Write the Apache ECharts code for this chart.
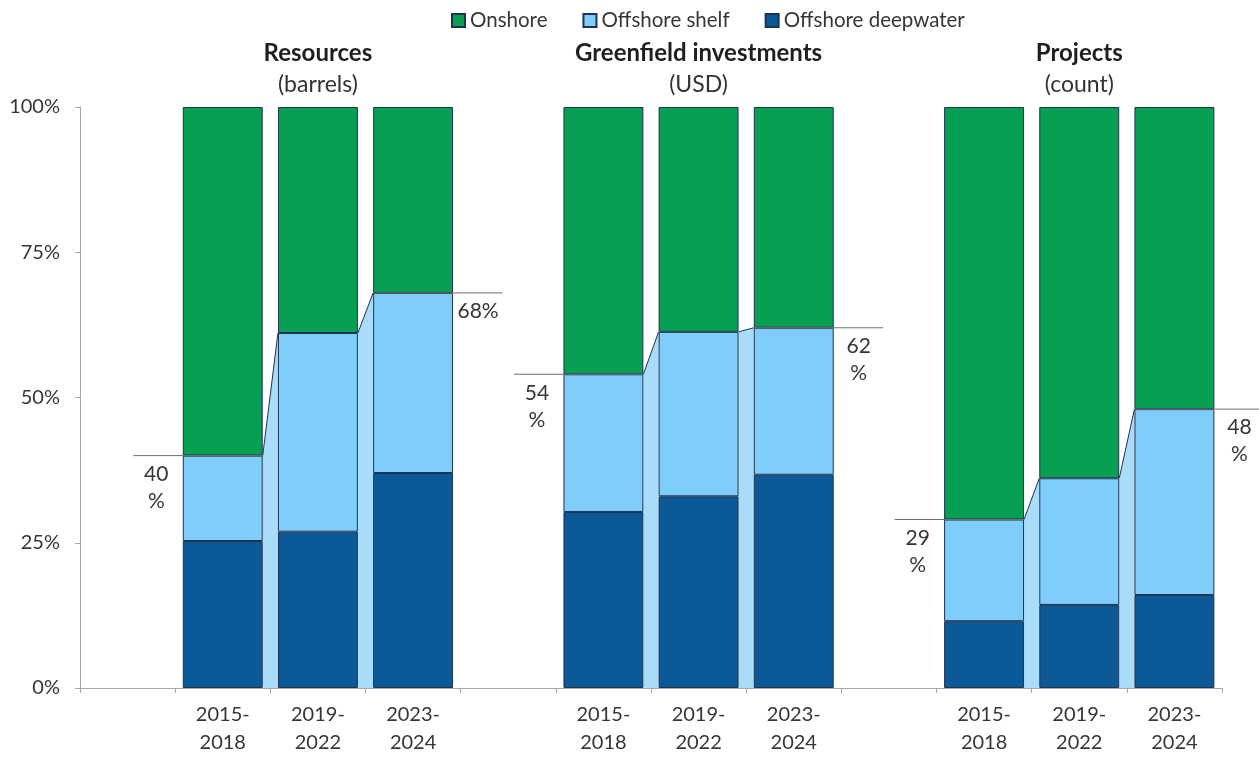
<!DOCTYPE html>
<html>
<head>
<meta charset="utf-8">
<script src="https://cdn.jsdelivr.net/npm/echarts@6/dist/echarts.min.js"></script>
<style>
  html, body { margin: 0; padding: 0; background: #ffffff; }
  #chart { width: 1259px; height: 758px; }
</style>
</head>
<body>
<div id="chart"></div>
<script>
// Panels, their units and the periods shown in each panel
const groups = ['Resources', 'Greenfield investments', 'Projects'];
const units = ['(barrels)', '(USD)', '(count)'];
const periods = ['2015-2018', '2019-2022', '2023-2024'];

// Shares in percent, one row per panel, one value per period
const deepwater = [
  [25.3, 26.9, 37.0],
  [30.3, 33.0, 36.7],
  [11.5, 14.3, 16.0]
];
const shelf = [
  [14.7, 34.2, 31.0],
  [23.7, 28.3, 25.3],
  [17.5, 21.8, 32.0]
];
const onshore = [
  [60.0, 38.9, 32.0],
  [46.0, 38.7, 38.0],
  [71.0, 63.9, 52.0]
];

// Whether the offshore-share callout wraps the % sign onto a second line
// (first period, last period) per panel
const calloutWrap = [
  [true, false],
  [true, true],
  [true, true]
];

const yTicks = [0, 25, 50, 75, 100];

const COLORS = {
  onshore: '#07a052',
  shelf: '#7fcdfb',
  deep: '#0b5a97',
  bridge: '#a9dcf8',
  border: '#1d3350',
  text: '#363636'
};
const BAR_RATIO = 0.84;
const FONT = 'Lato, "Noto Sans", "DejaVu Sans", sans-serif';

// Build the category slots: an empty spacer slot before each panel
const slots = [];
const deepData = [], shelfData = [], onData = [];
const bridges = [];   // connectors between neighbouring bars (offshore total)
const callouts = [];  // horizontal lines + value text at the first/last bar
groups.forEach((g, gi) => {
  slots.push(g + '|');
  deepData.push(null); shelfData.push(null); onData.push(null);
  const start = slots.length;
  periods.forEach((p, pi) => {
    slots.push(g + '|' + p);
    deepData.push(deepwater[gi][pi]);
    shelfData.push(shelf[gi][pi]);
    onData.push(onshore[gi][pi]);
  });
  const totals = periods.map((p, pi) => +(deepwater[gi][pi] + shelf[gi][pi]).toFixed(1));
  for (let pi = 0; pi < periods.length - 1; pi++) {
    bridges.push([start + pi, start + pi + 1, totals[pi], totals[pi + 1]]);
  }
  callouts.push([start, totals[0], -1, calloutWrap[gi][0] ? 1 : 0]);
  callouts.push([start + periods.length - 1, totals[periods.length - 1], 1, calloutWrap[gi][1] ? 1 : 0]);
});

const chart = echarts.init(document.getElementById('chart'), null, { renderer: 'canvas' });

function barSeries(name, data, color) {
  return {
    name: name,
    type: 'bar',
    stack: 'share',
    data: data,
    barWidth: (BAR_RATIO * 100) + '%',
    itemStyle: { color: color, borderColor: COLORS.border, borderWidth: 1 },
    emphasis: { disabled: true },
    z: 3
  };
}

const option = {
  animation: false,
  textStyle: { fontFamily: FONT },
  legend: {
    data: ['Onshore', 'Offshore shelf', 'Offshore deepwater'],
    top: 5,
    left: 446,
    icon: 'rect',
    itemWidth: 13,
    itemHeight: 13,
    itemGap: 35,
    textStyle: { fontSize: 20.5, color: COLORS.text, fontFamily: FONT }
  },
  grid: { left: 80, right: 37, top: 107, bottom: 70, containLabel: false },
  xAxis: {
    type: 'category',
    data: slots,
    axisLine: { lineStyle: { color: '#a6a6a6', width: 1 } },
    axisTick: { show: true, interval: 0, length: 5, lineStyle: { color: '#a6a6a6' } },
    axisLabel: {
      interval: 0,
      margin: 13,
      fontSize: 20,
      lineHeight: 28,
      color: COLORS.text,
      formatter: v => {
        const p = v.split('|')[1];
        return p ? p.replace('-', '-\n') : '';
      }
    },
    splitLine: { show: false }
  },
  yAxis: {
    type: 'value',
    min: yTicks[0],
    max: yTicks[yTicks.length - 1],
    interval: yTicks[1] - yTicks[0],
    axisLine: { show: true, lineStyle: { color: '#a6a6a6', width: 1 } },
    axisTick: { show: true, length: 5, lineStyle: { color: '#a6a6a6' } },
    axisLabel: { fontSize: 20, color: COLORS.text, margin: 20, formatter: '{value}%' },
    splitLine: { show: false }
  },
  series: [
    barSeries('Offshore deepwater', deepData, COLORS.deep),
    barSeries('Offshore shelf', shelfData, COLORS.shelf),
    barSeries('Onshore', onData, COLORS.onshore),
    {
      // light-blue bridges joining the offshore totals of neighbouring bars
      type: 'custom',
      name: 'bridge',
      coordinateSystem: 'cartesian2d',
      data: bridges,
      encode: { x: [0, 1], y: [2, 3] },
      clip: false,
      silent: true,
      z: 2,
      renderItem: (params, api) => {
        const band = api.size([1, 0])[0];
        const half = band * BAR_RATIO / 2;
        const pL = api.coord([api.value(0), api.value(2)]);
        const pR = api.coord([api.value(1), api.value(3)]);
        const base = api.coord([api.value(0), 0])[1];
        const x1 = pL[0] + half, x2 = pR[0] - half;
        return {
          type: 'group',
          children: [
            {
              type: 'polygon',
              shape: { points: [[x1, base], [x1, pL[1]], [x2, pR[1]], [x2, base]] },
              style: { fill: COLORS.bridge }
            },
            {
              type: 'line',
              shape: { x1: x1, y1: pL[1], x2: x2, y2: pR[1] },
              style: { stroke: COLORS.border, lineWidth: 1 }
            }
          ]
        };
      }
    },
    {
      // callout lines with the offshore share at each panel's first and last bar
      type: 'custom',
      name: 'callout',
      coordinateSystem: 'cartesian2d',
      data: callouts,
      encode: { x: 0, y: 1 },
      clip: false,
      silent: true,
      z: 4,
      renderItem: (params, api) => {
        const band = api.size([1, 0])[0];
        const half = band * BAR_RATIO / 2;
        const p = api.coord([api.value(0), api.value(1)]);
        const side = api.value(2);
        const wrap = api.value(3) === 1;
        let xa, xb, tx;
        if (side < 0) {
          xa = p[0] - 0.94 * band; xb = p[0] + half; tx = xa + 23;
        } else {
          xa = p[0] - half; xb = p[0] + 0.94 * band; tx = p[0] + half + 25;
        }
        const txt = Math.round(api.value(1)) + (wrap ? '\n%' : '%');
        return {
          type: 'group',
          children: [
            {
              type: 'line',
              shape: { x1: xa, y1: p[1], x2: xb, y2: p[1] },
              style: { stroke: '#6f6f6f', lineWidth: 1 }
            },
            {
              type: 'text',
              x: tx,
              y: p[1] + 5,
              style: {
                text: txt,
                fill: COLORS.text,
                font: '21px ' + FONT,
                lineHeight: 27,
                align: 'center',
                verticalAlign: 'top'
              }
            }
          ]
        };
      }
    }
  ]
};

chart.setOption(option);

// Panel titles centred over the middle period of each panel
const titles = [];
groups.forEach((g, gi) => {
  const mid = slots.indexOf(g + '|' + periods[1]);
  const x = chart.convertToPixel({ xAxisIndex: 0 }, slots[mid]);
  titles.push({
    type: 'text', x: x, y: 53,
    style: { text: g, font: 'bold 24px ' + FONT, fill: '#1f1f1f', align: 'center', verticalAlign: 'middle' }
  });
  titles.push({
    type: 'text', x: x, y: 85,
    style: { text: units[gi], font: '23px ' + FONT, fill: '#333333', align: 'center', verticalAlign: 'middle' }
  });
});
chart.setOption({ graphic: titles });
</script>
</body>
</html>
